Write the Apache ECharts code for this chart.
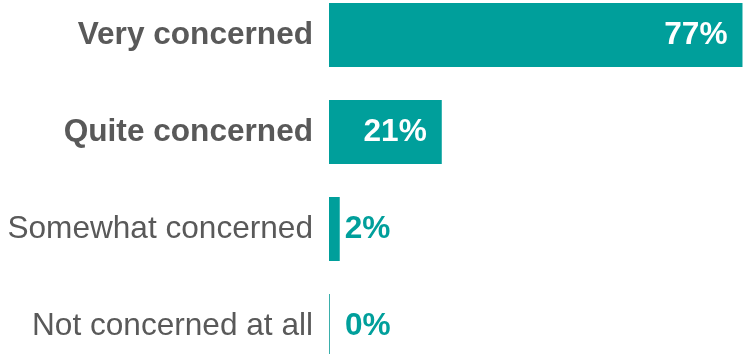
<!DOCTYPE html>
<html>
<head>
<meta charset="utf-8">
<style>
  html, body { margin: 0; padding: 0; background: #ffffff; }
  #chart { width: 744px; height: 354px; }
</style>
<script src="https://cdn.jsdelivr.net/npm/echarts@6/dist/echarts.min.js"></script>
</head>
<body>
<div id="chart"></div>
<script>
// Level of concern, share of respondents (%)
const categories = ['Very concerned', 'Quite concerned', 'Somewhat concerned', 'Not concerned at all'];
const values = [77, 21, 2, 0];
const boldCategories = [true, true, false, false];

const TEAL = '#009f9b';
const GREY = '#595959';
const FONT = 'Liberation Sans, Arial, sans-serif';
const FONT_SIZE = 31.6;

const chart = echarts.init(document.getElementById('chart'), null, { renderer: 'canvas' });

const seriesData = values.map(function (v, i) {
  const inside = v >= 10;
  return {
    value: v,
    itemStyle: v === 0 ? { color: '#3aafab' } : { color: TEAL },
    label: {
      show: true,
      position: inside ? 'insideRight' : 'right',
      distance: inside ? 15 : (v === 0 ? 15 : 5),
      color: inside ? '#ffffff' : TEAL,
      fontWeight: 'bold',
      fontSize: FONT_SIZE,
      fontFamily: FONT,
      formatter: '{c}%'
    }
  };
});

chart.setOption({
  animation: false,
  grid: {
    left: 329, top: -13.5, width: 537, height: 388,
    containLabel: false,
    outerBoundsMode: 'none'
  },
  xAxis: {
    type: 'value',
    min: 0,
    max: 100,
    show: false
  },
  yAxis: {
    type: 'category',
    inverse: true,
    data: categories.map(function (c, i) {
      return { value: c, textStyle: { fontWeight: boldCategories[i] ? 'bold' : 'normal' } };
    }),
    axisLine: { show: false },
    axisTick: { show: false },
    axisLabel: {
      margin: 16,
      color: GREY,
      fontSize: FONT_SIZE,
      fontFamily: FONT
    }
  },
  series: [{
    type: 'bar',
    data: seriesData,
    barCategoryGap: '34%',
    barMinHeight: 1
  }]
});
</script>
</body>
</html>
